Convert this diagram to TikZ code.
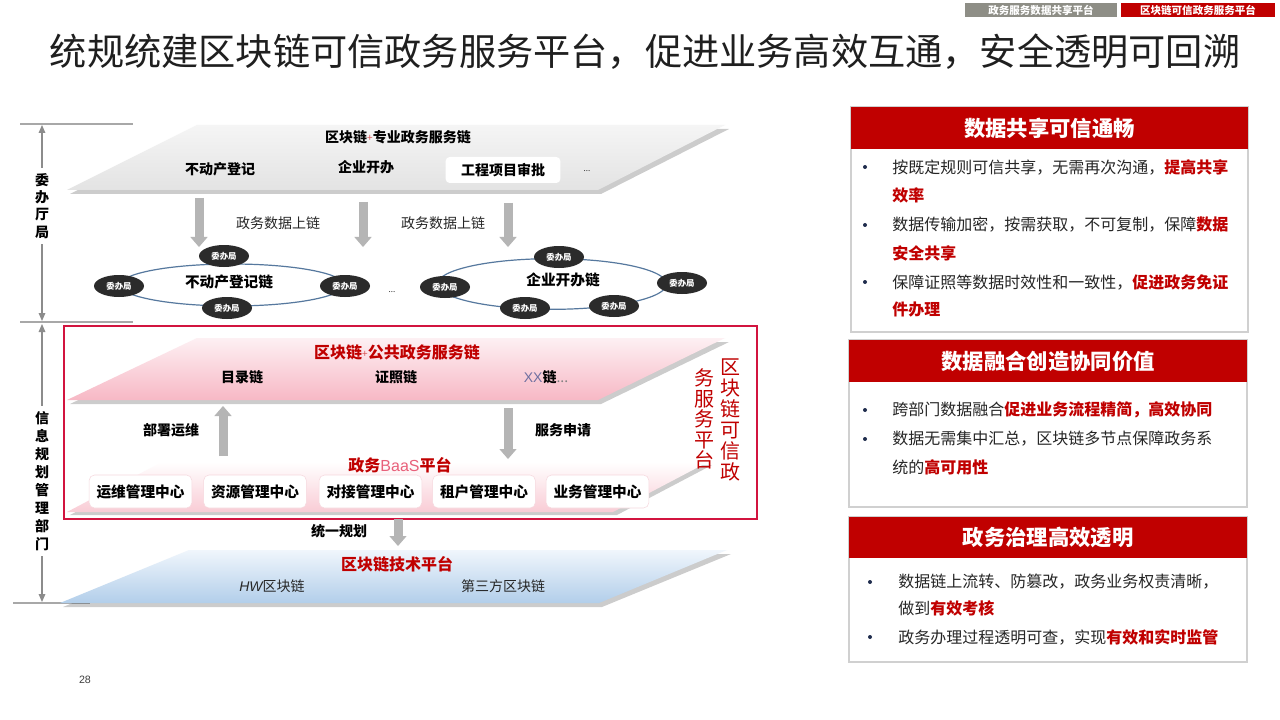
\documentclass[tikz,border=0pt]{standalone}
\usepackage{fontspec}
\setmainfont{Noto Sans CJK SC}
\newfontfamily\latinfont{Liberation Sans}
\usetikzlibrary{arrows.meta,shapes.geometric}
\definecolor{hred}{HTML}{C00000}
\definecolor{framec}{HTML}{D2143F}
\definecolor{graytop}{HTML}{F5F5F5}
\definecolor{graybot}{HTML}{E3E3E3}
\definecolor{pinktop}{HTML}{FDF0F3}
\definecolor{pinkbot}{HTML}{F7B8C5}
\definecolor{baastop}{HTML}{FFFFFF}
\definecolor{baasbot}{HTML}{F9CCD5}
\definecolor{bluetop}{HTML}{F0F6FC}
\definecolor{bluebot}{HTML}{B2CEEA}
\definecolor{arrgray}{HTML}{B5B5B5}
\definecolor{ringc}{HTML}{56789E}
\definecolor{nodedark}{HTML}{2B2B2B}
\definecolor{tabgray}{HTML}{8E8E86}
\definecolor{pbord}{HTML}{D0D0D0}
\definecolor{plusc}{HTML}{D85050}
\definecolor{baasc}{HTML}{E8607A}
\definecolor{xxc}{HTML}{7070A0}
\definecolor{txtc}{HTML}{262626}
\definecolor{axisc}{HTML}{8C8C8C}
\definecolor{hlinec}{HTML}{A8A8A8}
\definecolor{bulletc}{HTML}{1F2D4D}
\definecolor{cboxc}{HTML}{F6D8DE}
\newcommand{\myfs}[1]{\fontsize{#1}{#1}\selectfont}
\newcommand{\redb}[1]{{\color{hred}\bfseries #1}}
\newcommand{\smallplus}{{\color{plusc}\mdseries\myfs{7.5pt}\raisebox{0.5pt}{+}}}
\begin{document}
\begin{tikzpicture}[x=0.75pt,y=-0.75pt,
  tabbox/.style={minimum height=10.5pt, inner sep=0pt, text=white, font=\myfs{7.9pt}\bfseries},
  lay/.style={inner sep=0pt, font=\myfs{10.5pt}\bfseries, text=black},
  layred/.style={inner sep=0pt, font=\myfs{12pt}\bfseries, text=hred},
  lab/.style={inner sep=0pt, font=\myfs{10.5pt}, text=txtc},
  vlab/.style={fill=white, align=center, inner xsep=1pt, inner ysep=4pt, text=black},
  hline/.style={draw=hlinec, line width=1.1pt},
  axisarr/.style={draw=axisc, line width=0.8pt, {Triangle[width=5pt,length=6pt]}-{Triangle[width=5pt,length=6pt]}},
  blockarr/.style={draw=arrgray, line width=6.75pt, -{Triangle[width=13pt,length=7.5pt,line width=0pt]}},
  shadowc/.style={fill=black, opacity=0.2},
  ring/.style={ellipse, draw=ringc, line width=0.9pt, inner sep=0pt},
  wbj/.style={ellipse, fill=nodedark, minimum width=37.5pt, minimum height=16.5pt, inner sep=0pt, text=white, font=\myfs{6.3pt}\bfseries},
  cbox/.style={fill=white, draw=cboxc, line width=0.4pt, rounded corners=4pt, minimum width=77pt, minimum height=24.75pt, inner sep=0pt, font=\myfs{11pt}\bfseries},
  pbox/.style={draw=pbord, line width=1.1pt, fill=white},
  phead/.style={fill=hred, inner sep=0pt, text=white, font=\myfs{16pt}\bfseries},
  ptxt/.style={anchor=west, inner sep=0pt, font=\myfs{12pt}, text=txtc},
  bul/.style={circle, fill=bulletc, inner sep=0pt, minimum size=3pt}
]
\useasboundingbox (0,0) rectangle (1280,720);
\fill[white] (0,0) rectangle (1280,720);

% ---------- tabs ----------
\node[tabbox, fill=tabgray, minimum width=114pt] (tab1) at (1041,10) {政务服务数据共享平台};
\node[tabbox, fill=hred, minimum width=115pt] (tab2) at (1198,10) {区块链可信政务服务平台};

% ---------- title ----------
\node[inner sep=0pt, font=\myfs{27.9pt}, text={black!88}] (title) at (645,52)
  {统规统建区块链可信政务服务平台，促进业务高效互通，安全透明可回溯};

% ---------- left axis ----------
\draw[hline] (20,124) -- (133,124);
\draw[hline] (20,322) -- (133,322);
\draw[hline] (13,603) -- (90,603);
\coordinate (ax1t) at (42,125);
\coordinate (ax1b) at (42,321);
\coordinate (ax2t) at (42,324);
\coordinate (ax2b) at (42,602);
\draw[axisarr] (ax1t) -- (ax1b);
\draw[axisarr] (ax2t) -- (ax2b);
\node[vlab, font=\fontsize{10.5pt}{13pt}\selectfont\bfseries] (v1) at (42,206) {委\\办\\厅\\局};
\node[vlab, font=\fontsize{10.5pt}{13.5pt}\selectfont\bfseries] (v2) at (42,481) {信\\息\\规\\划\\管\\理\\部\\门};

% ---------- top gray layer ----------
\fill[shadowc] (70,194) -- (200,129) -- (729,129) -- (601,194) -- cycle;
\shade[top color=graytop, bottom color=graybot] (67,190) -- (197,125) -- (725,125) -- (598,190) -- cycle;
\node[lay] (t1) at (398,137) {区块链\smallplus 专业政务服务链};
\node[lay] (t2) at (220,169) {不动产登记};
\node[lay] (t3) at (366,167) {企业开办};
\node[lay, fill=white, rounded corners=3pt, minimum width=86pt, minimum height=19.5pt] (t4) at (503,170) {工程项目审批};
\node[inner sep=0pt, font=\myfs{6pt}, text=txtc] (t5) at (587,171) {...};

% ---------- data arrows ----------
\coordinate (a1s) at (199,198); \coordinate (a1e) at (199,247);
\coordinate (a2s) at (363,202); \coordinate (a2e) at (363,247);
\coordinate (a3s) at (508,203); \coordinate (a3e) at (508,247);
\draw[blockarr] (a1s) -- (a1e);
\draw[blockarr] (a2s) -- (a2e);
\draw[blockarr] (a3s) -- (a3e);
\node[lab] (l1) at (278,223) {政务数据上链};
\node[lab] (l2) at (443,223) {政务数据上链};

% ---------- rings ----------
\node[ring, minimum width=168pt, minimum height=31.5pt] (ringL) at (232,285) {};
\node[ring, minimum width=172pt, minimum height=38pt] (ringR) at (552,284) {};
\node[inner sep=0pt, font=\myfs{11pt}\bfseries] (rl) at (229,282) {不动产登记链};
\node[inner sep=0pt, font=\myfs{11pt}\bfseries] (rr) at (563,280) {企业开办链};
\node[wbj] (wL1) at (224,256) {委办局};
\node[wbj] (wL2) at (119,286) {委办局};
\node[wbj] (wL3) at (345,286) {委办局};
\node[wbj] (wL4) at (227,308) {委办局};
\node[wbj] (wR1) at (559,257) {委办局};
\node[wbj] (wR2) at (445,287) {委办局};
\node[wbj] (wR3) at (682,283) {委办局};
\node[wbj] (wR4) at (525,308) {委办局};
\node[wbj] (wR5) at (614,306) {委办局};
\node[inner sep=0pt, font=\myfs{6pt}, text=txtc] (rdots) at (392,292) {...};

% ---------- red frame ----------
\draw[draw=framec, line width=1.5pt] (64,326) rectangle (757,519);

% ---------- pink public layer ----------
\fill[shadowc] (70,404) -- (200,342) -- (729,342) -- (601,404) -- cycle;
\shade[top color=pinktop, bottom color=pinkbot] (67,400) -- (197,338) -- (725,338) -- (598,400) -- cycle;
\node[layred] (m1) at (397,352) {区块链\smallplus 公共政务服务链};
\node[lay] (m2) at (242,377) {目录链};
\node[lay] (m3) at (396,377) {证照链};
\node[lay] (m4) at (546,377) {{\color{xxc}\mdseries\latinfont XX}链{\color{gray}\mdseries ...}};

\coordinate (u1s) at (223,456); \coordinate (u1e) at (223,406);
\coordinate (d1s) at (508,408); \coordinate (d1e) at (508,459);
\draw[blockarr] (u1s) -- (u1e);
\draw[blockarr] (d1s) -- (d1e);
\node[lay] (l3) at (171,430) {部署运维};
\node[lay] (l4) at (563,430) {服务申请};

% ---------- BaaS layer ----------
\fill[shadowc] (70,515) -- (165,465) -- (712,465) -- (617,515) -- cycle;
\shade[top color=baastop, bottom color=baasbot] (67,512) -- (162,462) -- (708,462) -- (613,512) -- cycle;
\node[layred] (baas) at (400,465) {政务{\color{baasc}\mdseries\latinfont BaaS}平台};
\node[cbox] (c1) at (140.5,491.5) {运维管理中心};
\node[cbox] (c2) at (255,491.5) {资源管理中心};
\node[cbox] (c3) at (370.5,491.5) {对接管理中心};
\node[cbox] (c4) at (484,491.5) {租户管理中心};
\node[cbox] (c5) at (597.5,491.5) {业务管理中心};

% ---------- vertical red label ----------
\node[inner sep=0pt, align=center, text=hred, font=\fontsize{15pt}{15.75pt}\selectfont] (vr) at (730,419.5) {区\\块\\链\\可\\信\\政};
\node[inner sep=0pt, align=center, text=hred, font=\fontsize{15pt}{15.4pt}\selectfont] (vl) at (704,419) {务\\服\\务\\平\\台};

% ---------- to tech platform ----------
\coordinate (d2s) at (398,519); \coordinate (d2e) at (398,546);
\draw[blockarr] (d2s) -- (d2e);
\node[lay] (l5) at (339,531) {统一规划};

% ---------- blue layer ----------
\fill[shadowc] (63,607) -- (192,554) -- (731,554) -- (602,607) -- cycle;
\shade[top color=bluetop, bottom color=bluebot] (60,603) -- (189,550) -- (727,550) -- (599,603) -- cycle;
\node[layred] (b1) at (397,564) {区块链技术平台};
\node[lab] (b2) at (272,586) {{\latinfont\itshape HW}区块链};
\node[lab] (b3) at (503,586) {第三方区块链};

\node[inner sep=0pt, font=\latinfont\myfs{8pt}, text=black!75] (pg) at (85,680) {28};

% ---------- panel 1 ----------
\draw[pbox] (851,107) rectangle (1248,332);
\node[phead, minimum width=297.75pt, minimum height=31.5pt] (h1) at (1049.5,128) {数据共享可信通畅};
\node[bul] (p1b1) at (865,167) {};
\node[bul] (p1b2) at (865,225) {};
\node[bul] (p1b3) at (865,282) {};
\node[ptxt] (p1l1) at (892,167) {按既定规则可信共享，无需再次沟通，\redb{提高共享}};
\node[ptxt] (p1l2) at (892,195) {\redb{效率}};
\node[ptxt] (p1l3) at (892,225) {数据传输加密，按需获取，不可复制，保障\redb{数据}};
\node[ptxt] (p1l4) at (892,253) {\redb{安全共享}};
\node[ptxt] (p1l5) at (892,282) {保障证照等数据时效性和一致性，\redb{促进政务免证}};
\node[ptxt] (p1l6) at (892,310) {\redb{件办理}};

% ---------- panel 2 ----------
\draw[pbox] (849,340) rectangle (1247,507);
\node[phead, minimum width=298.5pt, minimum height=31.5pt] (h2) at (1048,361) {数据融合创造协同价值};
\node[bul] (p2b1) at (865,410) {};
\node[bul] (p2b2) at (865,439) {};
\node[ptxt] (p2l1) at (892,410) {跨部门数据融合\redb{促进业务流程精简，高效协同}};
\node[ptxt] (p2l2) at (892,439) {数据无需集中汇总，区块链多节点保障政务系};
\node[ptxt] (p2l3) at (892,467) {统的\redb{高可用性}};

% ---------- panel 3 ----------
\draw[pbox] (849,517) rectangle (1247,662);
\node[phead, minimum width=298.5pt, minimum height=30.75pt] (h3) at (1048,537.5) {政务治理高效透明};
\node[bul] (p3b1) at (870,582) {};
\node[bul] (p3b2) at (870,637) {};
\node[ptxt] (p3l1) at (898,582) {数据链上流转、防篡改，政务业务权责清晰，};
\node[ptxt] (p3l2) at (898,608) {做到\redb{有效考核}};
\node[ptxt] (p3l3) at (898,637) {政务办理过程透明可查，实现\redb{有效和实时监管}};
\end{tikzpicture}
\end{document}
